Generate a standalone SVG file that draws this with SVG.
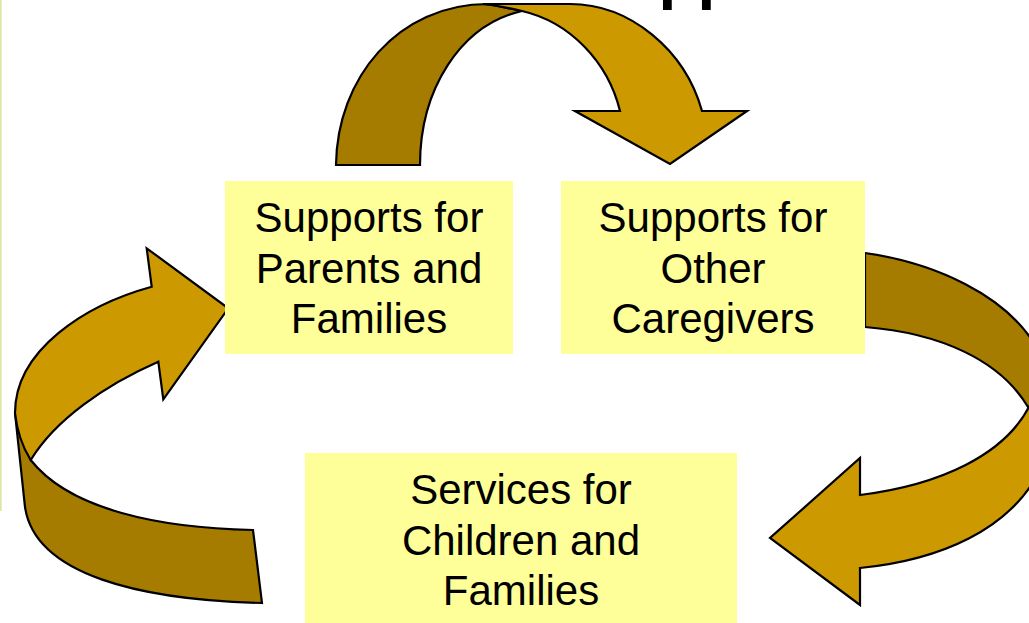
<svg xmlns="http://www.w3.org/2000/svg" width="1029" height="623" viewBox="0 0 1029 623">
  <style>
    .box { fill: #FFFF99; stroke: none; }
    .lbl { font-family: "Liberation Sans", Arial, sans-serif; font-size: 42px; fill: #000; text-anchor: middle; }
    .light { fill: #CC9900; stroke: #000; stroke-width: 2.2; stroke-linejoin: miter; }
    .dark { fill: #A57C00; stroke: #000; stroke-width: 2.2; stroke-linejoin: miter; }
  </style>
  <rect x="0" y="0" width="1029" height="623" fill="#FFFFFF"/>
  <line x1="0.8" y1="0" x2="0.8" y2="511" stroke="#DCE8A6" stroke-width="1.8"/>
  <text x="658.5" y="-3.5" font-family="Liberation Sans, Arial, sans-serif" font-size="64" font-weight="bold" fill="#000">pp</text>

  <g id="connectors">
    <g id="arrow-top">
      <path class="dark" d="M 336,165 C 337,78 398,4 488,4 L 522,11 C 460,25 420,90 420,165 Z"/>
      <path class="light" d="M 483,4 L 570,4 C 630,4 685,50 702,111 L 747,111 L 670,164 L 575,111 L 620,111 C 608,62 570,22 522,11 Q 502,6 483,4 Z"/>
    </g>
    <g id="arrow-right">
      <path class="dark" d="M 865,253 C 935,263 1005,295 1035,345 L 1040,345 L 1040,410 L 1028,407 C 1000,360 940,333 865,327 Z"/>
      <path class="light" d="M 860,495 C 940,485 1005,455 1030,405 L 1045,405 L 1045,470 L 1040,470 C 1010,530 940,560 860,568 L 860,605 L 770,538 L 860,458 Z"/>
    </g>
    <g id="arrow-left">
      <path class="dark" d="M 15,413 L 25,507 C 35,575 140,600 262,603 L 253,530 C 160,528 70,510 30.7,460 Z"/>
      <path class="light" d="M 151.7,286.7 L 146.7,248.3 L 228.3,308.3 L 163.3,399.3 L 158.3,361.7 C 105,385 55,420 30.7,460 Q 18,440 15,413 C 15,350 85,305 151.7,286.7 Z"/>
    </g>
  </g>

  <g id="node-parents">
    <rect class="box" x="225" y="181" width="288" height="173"/>
    <text class="lbl" x="369" y="232">Supports for</text>
    <text class="lbl" x="369" y="282.5">Parents and</text>
    <text class="lbl" x="369" y="333">Families</text>
  </g>
  <g id="node-caregivers">
    <rect class="box" x="561" y="181" width="304" height="173"/>
    <text class="lbl" x="713" y="232">Supports for</text>
    <text class="lbl" x="713" y="282.5">Other</text>
    <text class="lbl" x="713" y="333">Caregivers</text>
  </g>
  <g id="node-services">
    <rect class="box" x="305" y="453" width="432" height="175"/>
    <text class="lbl" x="521" y="504">Services for</text>
    <text class="lbl" x="521" y="554.5">Children and</text>
    <text class="lbl" x="521" y="605">Families</text>
  </g>
</svg>
